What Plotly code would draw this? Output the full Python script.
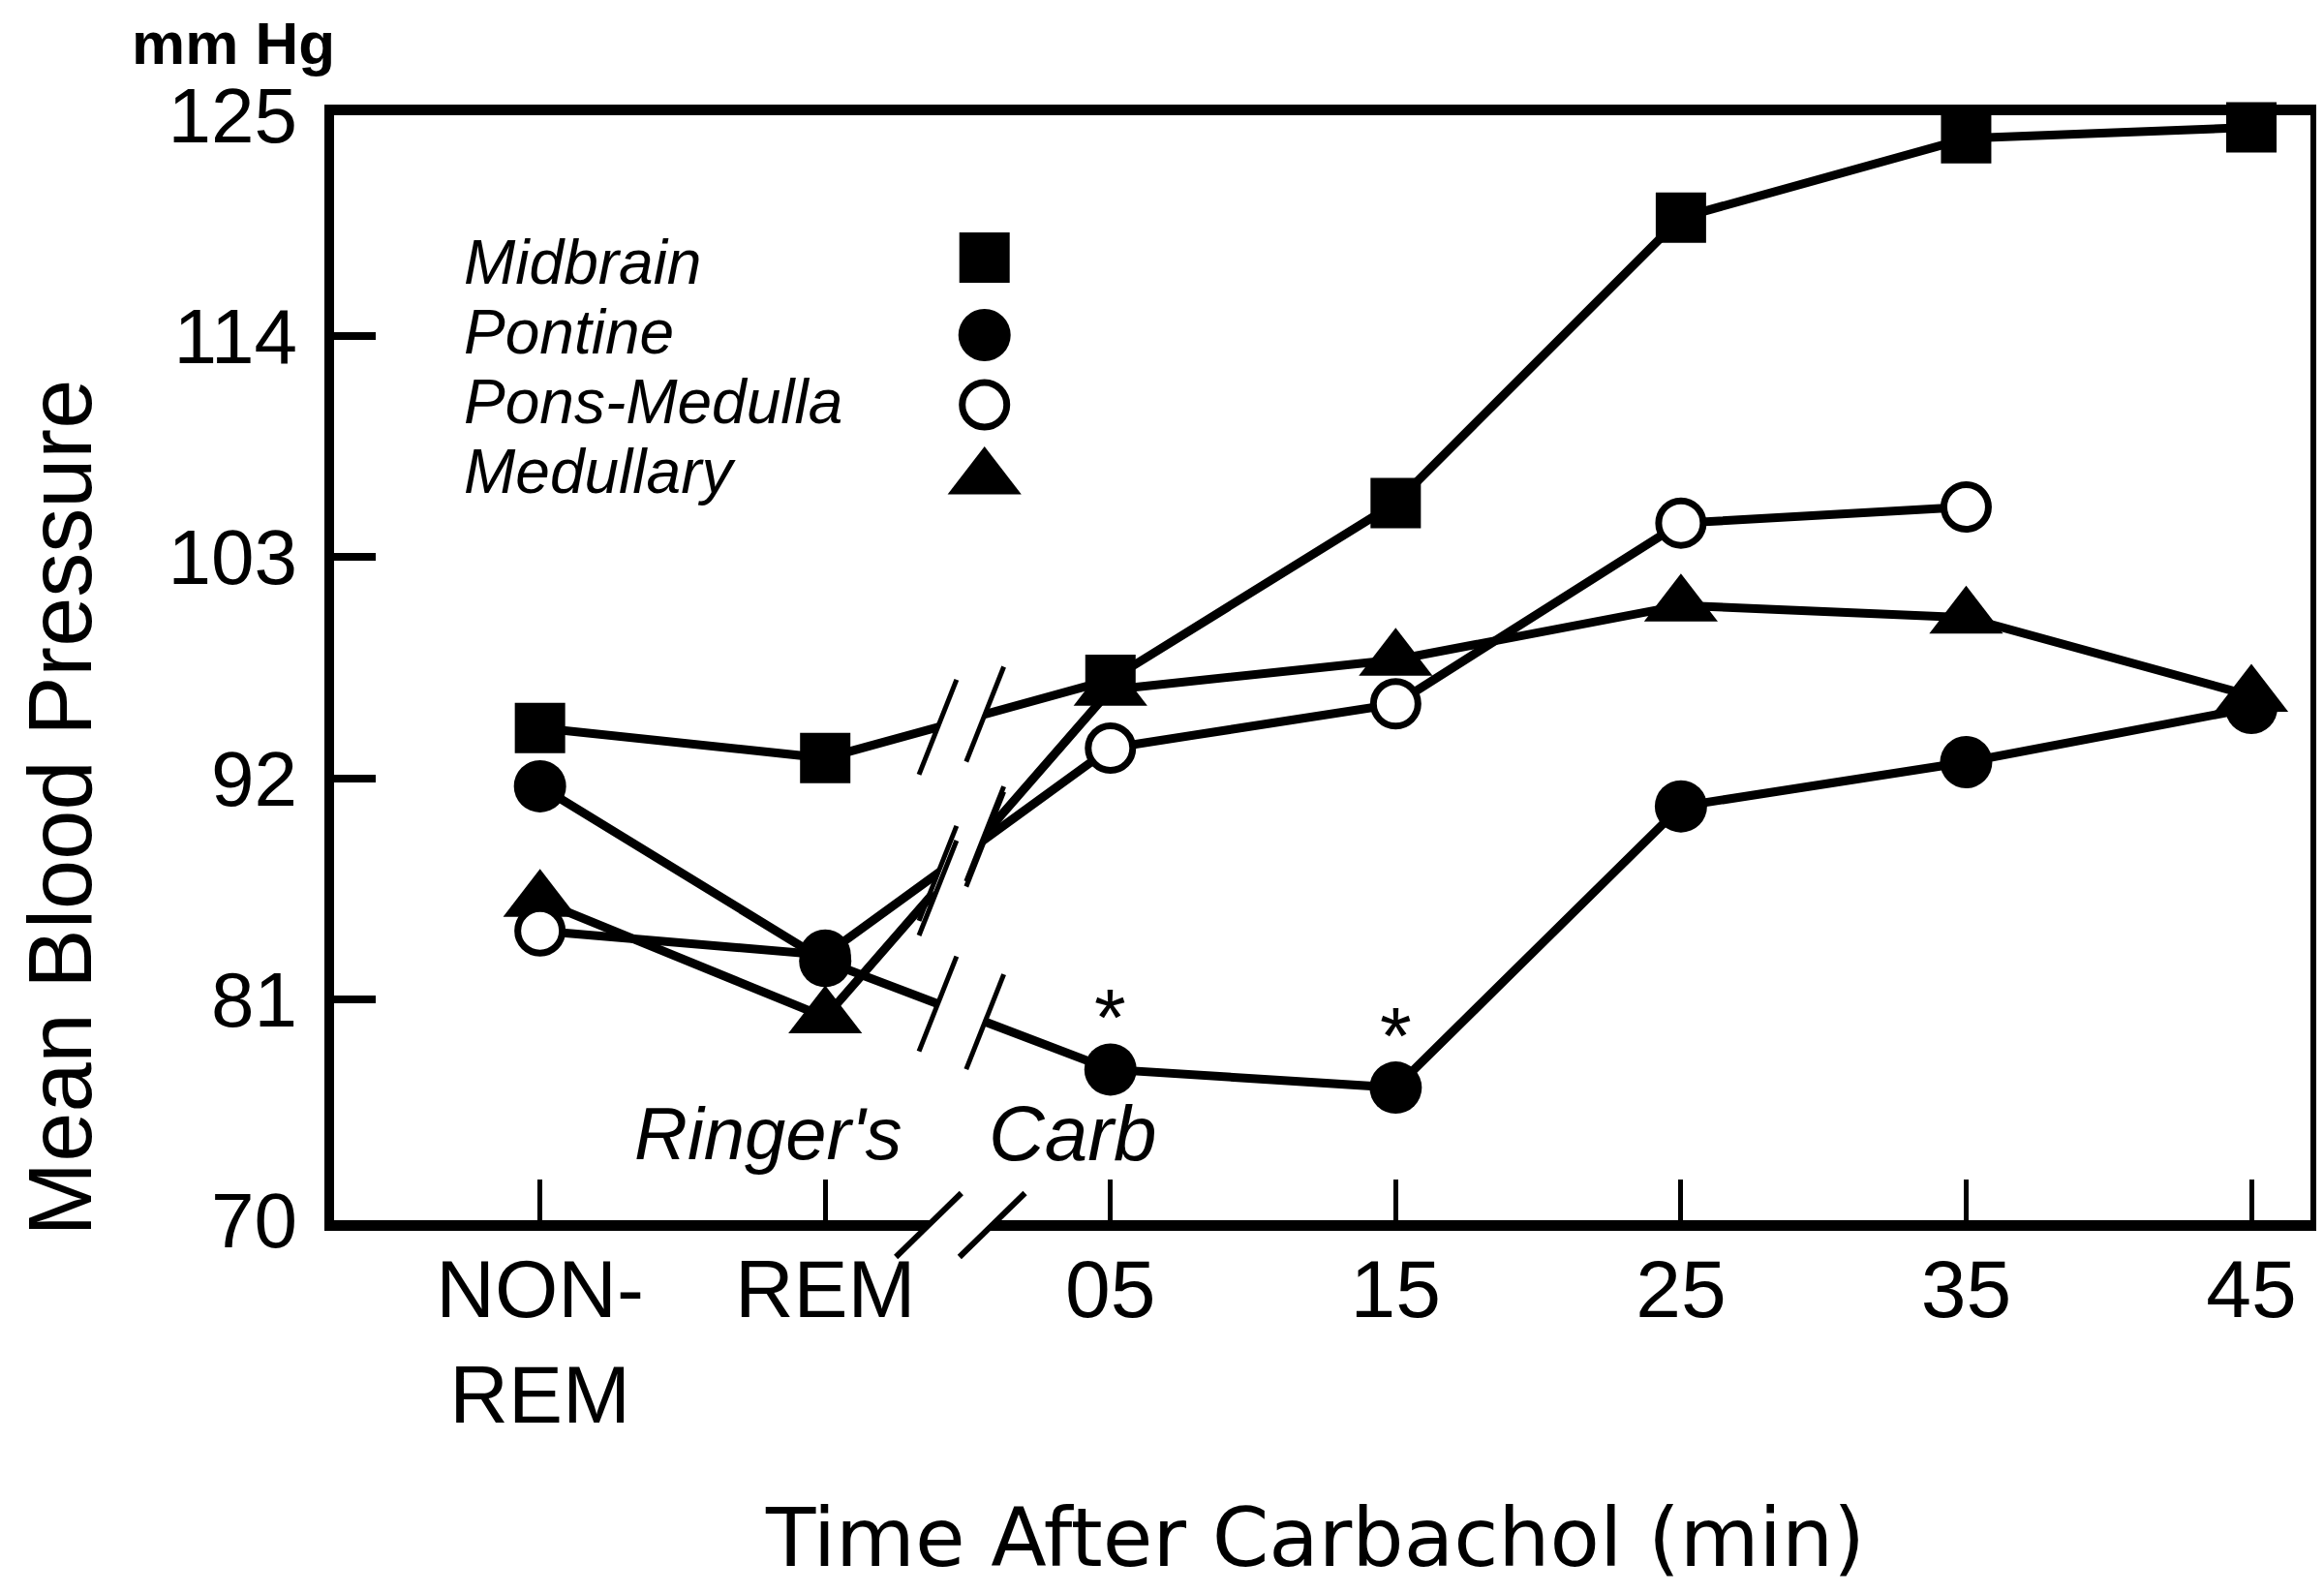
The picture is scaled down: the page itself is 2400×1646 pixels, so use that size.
import plotly.graph_objects as go

# ---------------- data ----------------
categories = ["NON-REM", "REM", "05", "15", "25", "35", "45"]
tick_labels = ["NON-<br>REM", "REM", "05", "15", "25", "35", "45"]
y_ticks = [70, 81, 92, 103, 114, 125]

midbrain = [94.5, 93.0, 96.9, 105.7, 119.9, 123.85, 124.4]
pontine = [91.6, 82.9, 77.5, 76.6, 90.6, 92.8, 95.5]
pons_medulla = [84.4, 83.2, 93.5, 95.7, 104.7, 105.5, None]
medullary = [85.9, 80.1, 96.4, 97.9, 100.6, 100.0, 96.1]
pontine_significant = [False, False, True, True, False, False, False]

series_names = ["Midbrain", "Pontine", "Pons-Medulla", "Medullary"]

# ---------------- layout constants (pixels) ----------------
W, H = 2400, 1646
L, R, T, B = 337, 12, 111, 394
X0_PX, DX_PX = 550.7, 296.0          # pixel of first category, pixels per category
Y_MIN, Y_MAX = 70, 125
PLOT_W = W - L - R
PLOT_H = H - T - B
PX_PER_Y = PLOT_H / (Y_MAX - Y_MIN)
x_range = [(L - X0_PX) / DX_PX, (W - R - X0_PX) / DX_PX]

FONT = "Liberation Sans, Arial, Helvetica, sans-serif"
WIDE_FONT = "DejaVu Sans, Liberation Sans, Arial, sans-serif"
BLACK = "#000000"


def paper_x(px):
    return (px - L) / PLOT_W


def paper_y(py):
    return (H - B - py) / PLOT_H


def data_x(px):
    return (px - X0_PX) / DX_PX


def data_y(py):
    return Y_MAX - (py - T) / PX_PER_Y


xs = list(range(len(categories)))

styles = {
    "Midbrain": dict(symbol="square", size=52, color=BLACK, lw=0),
    "Pontine": dict(symbol="circle", size=54, color=BLACK, lw=0),
    "Pons-Medulla": dict(symbol="circle", size=46, color="white", lw=7),
    "Medullary": dict(symbol="triangle-up", size=66, color=BLACK, lw=0),
}
values = {
    "Midbrain": midbrain,
    "Pontine": pontine,
    "Pons-Medulla": pons_medulla,
    "Medullary": medullary,
}

fig = go.Figure()

# draw order: triangles at the back, squares in front
for name in ["Medullary", "Pons-Medulla", "Pontine", "Midbrain"]:
    st = styles[name]
    fig.add_trace(go.Scatter(
        x=xs, y=values[name], mode="lines+markers", name=name,
        line=dict(color=BLACK, width=9),
        marker=dict(symbol=st["symbol"], size=st["size"], color=st["color"], opacity=1,
                    line=dict(color=BLACK, width=st["lw"])),
        showlegend=False, cliponaxis=False,
    ))

# ---------------- hand-made legend (symbols to the right of the text) ----------------
legend_text_px_x = 471
legend_key_px_x = 1012
legend_text_px_y = [263, 335, 407, 479]
legend_key_px_y = [258, 338, 410, 486]
fig.add_trace(go.Scatter(
    x=[data_x(legend_key_px_x)] * 4,
    y=[data_y(p) for p in legend_key_px_y],
    mode="markers", showlegend=False, hoverinfo="skip",
    marker=dict(symbol=[styles[n]["symbol"] for n in series_names],
                size=[styles[n]["size"] for n in series_names],
                color=[styles[n]["color"] for n in series_names],
                opacity=1,
                line=dict(color=BLACK, width=[styles[n]["lw"] for n in series_names])),
))

annotations = []
for name, py in zip(series_names, legend_text_px_y):
    annotations.append(dict(
        x=paper_x(legend_text_px_x), y=paper_y(py), xref="paper", yref="paper",
        xanchor="left", yanchor="middle", showarrow=False, borderpad=0,
        text="<i>%s</i>" % name, font=dict(family=FONT, size=64, color=BLACK)))

# asterisks over significant Pontine points
for i, sig in enumerate(pontine_significant):
    if sig:
        annotations.append(dict(
            x=xs[i], y=pontine[i], xref="x", yref="y", yshift=53,
            xanchor="center", yanchor="middle", showarrow=False,
            text="*", font=dict(family=FONT, size=84, color=BLACK)))

# Ringer's / Carb labels
annotations.append(dict(x=paper_x(787), y=paper_y(1162), xref="paper", yref="paper",
                        showarrow=False, xanchor="center", yanchor="middle",
                        text="<i>Ringer's</i>", font=dict(family=FONT, size=76, color=BLACK)))
annotations.append(dict(x=paper_x(1103), y=paper_y(1162), xref="paper", yref="paper",
                        showarrow=False, xanchor="center", yanchor="middle",
                        text="<i>Carb</i>", font=dict(family=FONT, size=80, color=BLACK)))

# axis titles and unit
annotations.append(dict(x=paper_x(53), y=paper_y(826), xref="paper", yref="paper",
                        showarrow=False, textangle=-90, xanchor="center", yanchor="middle",
                        borderpad=0,
                        text="Mean Blood Pressure", font=dict(family=FONT, size=92, color=BLACK)))
annotations.append(dict(x=paper_x(1355), y=paper_y(1580), xref="paper", yref="paper",
                        showarrow=False, xanchor="center", yanchor="middle", borderpad=0,
                        text="Time After Carbachol (min)",
                        font=dict(family=WIDE_FONT, size=84, color=BLACK)))
annotations.append(dict(x=paper_x(232), y=paper_y(36), xref="paper", yref="paper",
                        showarrow=False, xanchor="center", yanchor="middle", borderpad=0,
                        text="<b>mm Hg</b>", font=dict(family=FONT, size=62, color=BLACK)))

# ---------------- axis break marks ----------------
xb = data_x(988)
hw = 19.5 / DX_PX
hh = 49 / PX_PER_Y
g = 24.5 / DX_PX
k = 0.45
gap_polys = []
slashes = []
for name in series_names:
    v = values[name]
    y1, y2 = v[1], v[2]

    def yat(x):
        return y1 + (y2 - y1) * (x - xs[1]) / (xs[2] - xs[1])

    xl, xr = xb - g, xb + g
    yl, yr = yat(xl), yat(xr)
    path = "M %f,%f L %f,%f L %f,%f L %f,%f Z" % (
        xl - k * hw, yl - k * hh, xr - k * hw, yr - k * hh,
        xr + k * hw, yr + k * hh, xl + k * hw, yl + k * hh)
    gap_polys.append(dict(type="path", xref="x", yref="y", path=path,
                          fillcolor="white", line=dict(width=0), layer="above"))
    for cx, cy in [(xl, yl), (xr, yr)]:
        slashes.append(dict(type="line", xref="x", yref="y",
                            x0=cx - hw, y0=cy - hh, x1=cx + hw, y1=cy + hh,
                            line=dict(color=BLACK, width=5), layer="above"))

# x-axis break (paper coordinates, pixels converted)
axc_y = 1257
ax_hw, ax_hh = 34, 33
ak = 0.55
ax_l, ax_r = 954, 1020
poly_px = [(ax_l - ak * ax_hw, axc_y + ak * ax_hh), (ax_r - ak * ax_hw, axc_y + ak * ax_hh),
           (ax_r + ak * ax_hw, axc_y - ak * ax_hh), (ax_l + ak * ax_hw, axc_y - ak * ax_hh)]
path = "M " + " L ".join("%f,%f" % (paper_x(a), paper_y(b)) for a, b in poly_px) + " Z"
gap_polys.append(dict(type="path", xref="paper", yref="paper", path=path,
                      fillcolor="white", line=dict(width=0), layer="above"))
for cx in [ax_l, ax_r]:
    slashes.append(dict(type="line", xref="paper", yref="paper",
                        x0=paper_x(cx - ax_hw), y0=paper_y(axc_y + ax_hh),
                        x1=paper_x(cx + ax_hw), y1=paper_y(axc_y - ax_hh),
                        line=dict(color=BLACK, width=6), layer="above"))
shapes = gap_polys + slashes

fig.update_layout(
    width=W, height=H,
    margin=dict(l=L, r=R, t=T, b=B, pad=0),
    paper_bgcolor="white", plot_bgcolor="white",
    showlegend=False,
    annotations=annotations,
    shapes=shapes,
    xaxis=dict(range=x_range, tickmode="array", tickvals=xs, ticktext=tick_labels,
               ticks="inside", ticklen=42, tickwidth=5, tickcolor=BLACK,
               showline=True, linewidth=11, linecolor=BLACK, mirror=True,
               showgrid=False, zeroline=False, ticklabelstandoff=-12,
               tickfont=dict(family=FONT, size=84, color=BLACK)),
    yaxis=dict(range=[Y_MIN, Y_MAX], tickmode="array", tickvals=y_ticks,
               ticks="inside", ticklen=43, tickwidth=8, tickcolor=BLACK,
               showline=True, linewidth=10, linecolor=BLACK, mirror=True,
               showgrid=False, zeroline=False, ticklabelstandoff=12,
               tickfont=dict(family=FONT, size=80, color=BLACK)),
)

fig.write_html("out.html")
